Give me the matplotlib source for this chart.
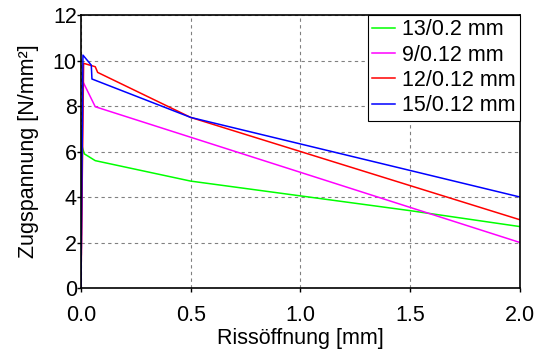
import matplotlib
matplotlib.use("Agg")
import matplotlib.pyplot as plt

plt.rcParams['font.family'] = ['Liberation Sans', 'DejaVu Sans']

# Rissöffnung [mm] / Zugspannung [N/mm²]
w_13_02 = [0.0, 0.003, 0.006, 0.015, 0.065, 0.5, 1.0, 1.5, 2.0]
s_13_02 = [0.0, 6.95, 6.2, 5.9, 5.6, 4.7, 4.05, 3.4, 2.7]

w_9_012 = [0.0, 0.009, 0.065, 2.0]
s_9_012 = [0.0, 9.07, 7.97, 2.0]

w_12_012 = [0.0, 0.012, 0.065, 0.076, 0.5, 2.0]
s_12_012 = [0.0, 9.88, 9.73, 9.48, 7.5, 3.0]

w_15_012 = [0.0, 0.009, 0.047, 0.05, 0.5, 2.0]
s_15_012 = [0.0, 10.24, 9.8, 9.19, 7.5, 4.0]

labels = ['13/0.2 mm', '9/0.12 mm', '12/0.12 mm', '15/0.12 mm']
colors = ['#00ff00', '#ff00ff', '#ff0000', '#0000ff']

FS = 15.5

fig = plt.figure(figsize=(5.42, 3.51), dpi=100)
ax = fig.add_axes([0.1494, 0.1795, 0.81, 0.7775])

series = [(w_13_02, s_13_02), (w_9_012, s_9_012), (w_12_012, s_12_012), (w_15_012, s_15_012)]
for (w, s), lab, c in zip(series, labels, colors):
    ax.plot(w, s, color=c, lw=1.1, label=lab)

ax.set_xlim(0, 2.0)
ax.set_ylim(0, 12)
ax.set_xticks([0.0, 0.5, 1.0, 1.5, 2.0])
ax.set_xticklabels(['0.0', '0.5', '1.0', '1.5', '2.0'])
ax.set_yticks([0, 2, 4, 6, 8, 10, 12])
ax.grid(True, color='#808080', ls=(0, (3, 3)), lw=0.8)
ax.set_axisbelow(True)
for sp in ax.spines.values():
    sp.set_linewidth(1.2)
    sp.set_color('black')
ax.tick_params(direction='out', length=3, width=1, labelsize=FS)
ax.tick_params(axis='y', pad=0)
ax.tick_params(axis='x', pad=9)

ax.set_xlabel('Rissöffnung [mm]', fontsize=FS, labelpad=1.5)
ax.set_ylabel('Zugspannung [N/mm²]', fontsize=FS, labelpad=10)

leg = ax.legend(loc='upper right', fontsize=FS, borderaxespad=0, fancybox=False,
                framealpha=1, edgecolor='black', handlelength=1.07, handletextpad=0.33,
                labelspacing=0.2, borderpad=0.2)
leg.get_frame().set_linewidth(0.8)

fig.savefig('out.png', dpi=100)
